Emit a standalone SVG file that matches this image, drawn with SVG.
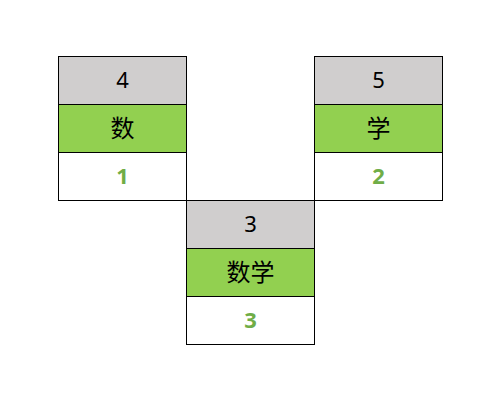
<svg xmlns="http://www.w3.org/2000/svg" width="500" height="400" viewBox="0 0 500 400">
<style>
.h{fill:#D0CECE;stroke:#000;stroke-width:1}
.m{fill:#92D050;stroke:#000;stroke-width:1}
.b{fill:#FFFFFF;stroke:#000;stroke-width:1}
text{font-family:"Noto Sans","Noto Sans CJK SC",sans-serif;font-size:22px;text-anchor:middle;fill:#000}
text.c{font-size:24px}
text.v{fill:#70AD47;font-weight:bold}
</style>
<rect width="500" height="400" fill="#FFFFFF"/>
<g id="connectors"></g>
<g id="node4">
<rect class="h" x="58.5" y="56.5" width="128" height="48"/>
<rect class="m" x="58.5" y="104.5" width="128" height="48"/>
<rect class="b" x="58.5" y="152.5" width="128" height="48"/>
<text x="122.5" y="88">4</text>
<text class="c" x="122.5" y="137">数</text>
<text class="v" x="122.5" y="184">1</text>
</g>
<g id="node5">
<rect class="h" x="314.5" y="56.5" width="128" height="48"/>
<rect class="m" x="314.5" y="104.5" width="128" height="48"/>
<rect class="b" x="314.5" y="152.5" width="128" height="48"/>
<text x="378.5" y="88">5</text>
<text class="c" x="378.5" y="137">学</text>
<text class="v" x="378.5" y="184">2</text>
</g>
<g id="node3">
<rect class="h" x="186.5" y="200.5" width="128" height="48"/>
<rect class="m" x="186.5" y="248.5" width="128" height="48"/>
<rect class="b" x="186.5" y="296.5" width="128" height="48"/>
<text x="250.5" y="232">3</text>
<text class="c" x="250.5" y="281">数学</text>
<text class="v" x="250.5" y="328">3</text>
</g>
</svg>
